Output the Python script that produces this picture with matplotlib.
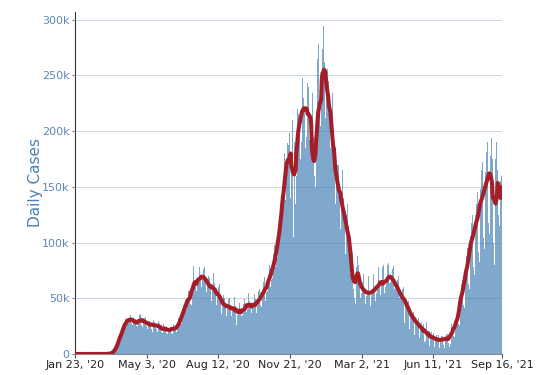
import numpy as np
import pandas as pd
import matplotlib
matplotlib.use("Agg")
import matplotlib.pyplot as plt
from matplotlib.ticker import FuncFormatter

# Daily new cases in thousands.
# Each row is one week, Thursday..Wednesday, starting Jan 23 2020.
cases_2020 = [
    0, 0, 0, 0, 0, 0, 0,
    0, 0, 0, 0, 0, 0, 0,
    0, 0, 0, 0, 0, 0, 0,
    0, 0, 0, 0, 0, 0, 0,
    0, 0, 0, 0, 0, 0, 0,
    0, 0, 0.01, 0.01, 0.02, 0.02, 0.03,
    0.03, 0.05, 0.06, 0.08, 0.12, 0.17, 0.25,
    0.35, 0.5, 0.6, 0.8, 1.0, 1.3, 2.2,
    3.5, 4.5, 5.5, 6.5, 8.5, 9.5, 11,
    15, 17.5, 19.5, 18.5, 19, 20.5, 23,
    27, 31, 33, 28, 27, 27.5, 29.5,
    33, 35, 33, 28, 26, 29, 33,
    31, 31, 28, 25, 25, 27, 29,
    35, 36, 32, 26, 24, 28, 32.5,
    32, 33, 29, 25, 22, 25, 30,
    30, 29, 27, 22, 20, 27, 30.5,
    29, 27, 25, 22, 20, 26, 29.5,
    28, 25, 23, 20, 19, 19, 27,
    25, 25, 24, 19, 18, 21, 22,
    23.5, 25, 23, 19, 18, 22, 27,
    23, 25, 25.5, 19.5, 19, 24, 32,
    28, 32, 33, 27, 31, 36, 44,
    40, 46, 43, 40, 41, 48, 57,
    54, 57, 45, 44, 50, 63, 79,
    63, 69, 62, 57, 58, 65, 67,
    76, 78, 68, 60, 60, 68, 76.5,
    75, 78, 66, 56, 55, 62, 70,
    70, 68, 58, 48, 48, 62, 73,
    62, 64, 56, 44, 45, 54, 60,
    56, 63, 50, 40, 36, 45, 53,
    47, 50, 45, 36, 34, 40, 49,
    47, 50, 42, 33, 34, 39, 42,
    45, 51, 43, 32, 26, 35, 48,
    36, 46, 40, 34, 34, 35, 37.5,
    45, 49, 42, 37, 38, 40, 46.5,
    55, 48, 43, 35, 37, 45, 45,
    45, 54, 49, 35, 37, 43, 48.5,
    57, 58, 50, 44, 42, 49, 57,
    65, 69, 57, 48, 56, 57, 61,
    72, 80, 78, 60, 66, 68, 73,
    90, 98, 88, 78, 85, 86, 98,
    112, 125, 122, 105, 113, 128, 135,
    155, 180, 165, 138, 158, 170, 189,
    188, 198, 178, 140, 168, 178, 210,
    105, 190, 150, 135, 160, 195, 220,
    215, 228, 213, 175, 190, 215, 248,
    230, 252, 220, 185, 195, 208, 243,
    240, 245, 192, 185, 190, 198, 234,
    195, 95, 160, 150, 180, 215, 265,
    278,
]

cases_2021 = [
    150, 230, 205, 200, 245, 274,
    294, 285, 262, 212, 215, 240, 256,
    245, 250, 225, 185, 160, 220, 234,
    195, 192, 170, 135, 145, 155, 170,
    170, 165, 140, 112, 118, 145, 165,
    135, 140, 115, 90, 100, 125, 135,
    115, 115, 92, 72, 80, 85, 92,
    62, 58, 50, 45, 70, 78, 88,
    78, 80, 65, 48, 50, 55, 65,
    68, 72, 58, 40, 45, 52, 57,
    66, 70, 55, 40, 43, 53, 58,
    68, 72, 58, 42, 48, 55, 63,
    75, 78, 62, 45, 53, 62, 73,
    78, 80, 55, 40, 60, 66, 76,
    80, 82, 64, 48, 65, 70, 78,
    76, 79, 58, 40, 62, 62, 71,
    66, 70, 50, 33, 50, 55, 61,
    58, 60, 42, 28, 46, 48, 54,
    47, 48, 32, 22, 36, 38, 43,
    37, 38, 26, 17, 29, 31, 35.5,
    30, 32, 21, 14, 24, 25, 29,
    25, 27, 17, 11, 12, 26, 29,
    19, 21, 11, 7, 17, 17, 20,
    17, 19, 10, 6, 14, 15, 17,
    15, 17, 8, 5, 13, 14, 16,
    16, 18, 8, 5, 14, 15.5, 18,
    18, 17, 10, 6, 9, 22, 26.5,
    24, 26, 16, 15, 25, 29, 33,
    38, 42, 27, 26, 45, 53, 63,
    66, 72, 44, 41, 68, 76, 88,
    95, 102, 63, 58, 95, 106, 118,
    125, 130, 78, 71, 113, 125, 135,
    145, 152, 92, 83, 132, 148, 165,
    165, 172, 104, 94, 150, 163, 181,
    182, 190, 118, 108, 165, 178, 194,
    180, 175, 100, 80, 75, 175, 190,
    160, 165, 125, 115, 145, 155, 160,
    140,
]

y_ticks = [0, 50000, 100000, 150000, 200000, 250000, 300000]

cases = np.array(cases_2020 + cases_2021) * 1000
dates = pd.date_range("2020-01-23", periods=len(cases), freq="D")
avg_7d = pd.Series(cases, index=dates).rolling(7, center=True, min_periods=1).mean()

fig = plt.figure(figsize=(5.55, 3.75), dpi=100)
ax = fig.add_axes([75 / 555, 21 / 375, 427 / 555, 342 / 375])

ax.bar(dates, cases, width=1.0, color="#80a7cc", linewidth=0, zorder=1)
ax.plot(dates, avg_7d, color="#a51d27", linewidth=2.9,
        solid_capstyle="round", zorder=3)

ax.set_xlim(dates[0], dates[-1])
ax.set_ylim(0, 307000)

# x ticks every 101 days plus the last day
tick_dates = list(dates[::101]) + [dates[-1]]
ax.set_xticks(tick_dates)
ax.set_xticklabels([f"{d:%b} {d.day}, '{d:%y}" for d in tick_dates],
                   fontsize=8, color="#222222")

ax.set_yticks(y_ticks)
ax.yaxis.set_major_formatter(
    FuncFormatter(lambda v, _: "0" if v == 0 else f"{int(v / 1000)}k"))
ax.tick_params(axis="y", labelsize=8, labelcolor="#5e88b3", length=2.5,
               pad=1.5, color="#888888")
ax.tick_params(axis="x", length=3, pad=1.5, color="#555555")

ax.yaxis.grid(True, color="#4f7fa8", alpha=0.3, linewidth=0.8)
ax.set_axisbelow(False)

ax.set_ylabel("Daily Cases", fontsize=11, color="#4a80b8")
ax.yaxis.set_label_coords(-0.076, 0.5)

for side in ["top", "right"]:
    ax.spines[side].set_visible(False)
ax.spines["left"].set_color("#333333")
ax.spines["left"].set_bounds(0, 307000)
ax.spines["bottom"].set_color("#8a8a8a")

fig.savefig("out.png", dpi=100)
